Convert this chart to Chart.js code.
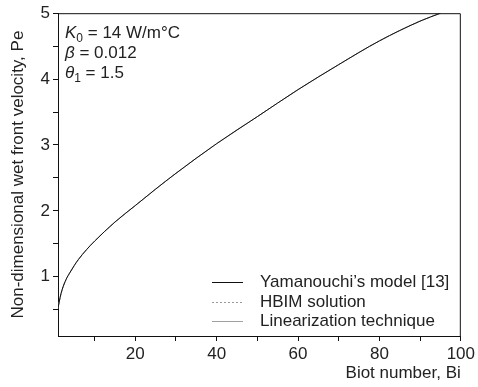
<!DOCTYPE html>
<html>
<head>
<meta charset="utf-8">
<script src="https://cdn.jsdelivr.net/npm/chart.js@4/dist/chart.umd.min.js"></script>
<style>
html,body{margin:0;padding:0;background:#fff;}
#wrap{width:478px;height:387px;position:relative;}
</style>
</head>
<body>
<div id="wrap"><canvas id="c" width="478" height="387"></canvas></div>
<script>
const biot = [1, 1.5, 2, 3, 4, 5, 6, 8, 10, 15, 20, 25, 30, 40, 50, 60, 70, 80, 90, 95];
const yamanouchi = [0.52, 0.68, 0.80, 0.96, 1.07, 1.17, 1.26, 1.41, 1.54, 1.83, 2.08, 2.33, 2.57, 3.02, 3.43, 3.84, 4.22, 4.58, 4.88, 5.00];
const hbim = [0.52, 0.68, 0.80, 0.96, 1.07, 1.17, 1.26, 1.41, 1.54, 1.83, 2.08, 2.33, 2.57, 3.02, 3.43, 3.84, 4.22, 4.58, 4.88, 5.00];
const linearization = [0.52, 0.68, 0.80, 0.96, 1.07, 1.17, 1.26, 1.41, 1.54, 1.83, 2.08, 2.33, 2.57, 3.02, 3.43, 3.84, 4.22, 4.58, 4.88, 5.00];
const seriesNames = ["Yamanouchi\u2019s model [13]", "HBIM solution", "Linearization technique"];
const xTicks = [10, 20, 30, 40, 50, 60, 70, 80, 90, 100];
const xTickLabels = [20, 40, 60, 80, 100];
const yTicks = [0.5, 1, 1.5, 2, 2.5, 3, 3.5, 4, 4.5, 5];
const yTickLabels = [1, 2, 3, 4, 5];

const FONT = "'Liberation Sans', Arial, Helvetica, sans-serif";
const TXT = '#222';

function pts(arr){ return biot.map((b,i)=>({x:b, y:arr[i]})); }

const frameAndText = {
  id: 'frameAndText',
  afterDraw(chart){
    const ctx = chart.ctx, a = chart.chartArea;
    ctx.save();
    ctx.strokeStyle = '#111';
    ctx.lineWidth = 1;
    ctx.beginPath();
    ctx.moveTo(a.left, a.top + 0.5);
    ctx.lineTo(a.right - 0.5, a.top + 0.5);
    ctx.lineTo(a.right - 0.5, a.bottom);
    ctx.stroke();

    // annotations
    ctx.fillStyle = TXT;
    ctx.textBaseline = 'alphabetic';
    const x0 = a.left + 7;
    let y = a.top + 25;
    ctx.font = 'italic 17px ' + FONT;
    ctx.fillText('K', x0, y);
    let w = ctx.measureText('K').width;
    ctx.font = '12px ' + FONT;
    ctx.fillText('0', x0 + w, y + 4);
    let w2 = ctx.measureText('0').width;
    ctx.font = '17px ' + FONT;
    ctx.fillText(' = 14 W/m\u00B0C', x0 + w + w2, y);

    y += 20;
    ctx.font = 'italic 17px ' + FONT;
    ctx.fillText('\u03B2', x0, y);
    w = ctx.measureText('\u03B2').width;
    ctx.font = '17px ' + FONT;
    ctx.fillText(' = 0.012', x0 + w, y);

    y += 20;
    ctx.font = 'italic 17px ' + FONT;
    ctx.fillText('\u03B8', x0, y);
    w = ctx.measureText('\u03B8').width;
    ctx.font = '12px ' + FONT;
    ctx.fillText('1', x0 + w, y + 4);
    w2 = ctx.measureText('1').width;
    ctx.font = '17px ' + FONT;
    ctx.fillText(' = 1.5', x0 + w + w2, y);

    // legend
    const lx0 = 212, lx1 = 243, tx = 260;
    const rows = [282, 302, 321];
    chart.data.datasets.forEach((ds, i) => {
      const ry = rows[i];
      ctx.strokeStyle = ds.borderColor;
      ctx.lineWidth = ds.borderWidth;
      ctx.setLineDash(ds.borderDash || []);
      ctx.beginPath();
      ctx.moveTo(lx0, ry + 0.5);
      ctx.lineTo(lx1, ry + 0.5);
      ctx.stroke();
      ctx.setLineDash([]);
      ctx.fillStyle = TXT;
      ctx.font = '17px ' + FONT;
      ctx.textBaseline = 'middle';
      ctx.fillText(ds.label, tx, ry);
    });
    ctx.restore();
  }
};

new Chart(document.getElementById('c'), {
  type: 'line',
  data: {
    datasets: [
      {label: seriesNames[0], data: pts(yamanouchi), borderColor: '#111', borderWidth: 1, pointRadius: 0, cubicInterpolationMode: 'monotone', fill: false},
      {label: seriesNames[1], data: pts(hbim), borderColor: '#999', borderWidth: 1, borderDash: [2, 2], pointRadius: 0, cubicInterpolationMode: 'monotone', fill: false},
      {label: seriesNames[2], data: pts(linearization), borderColor: '#777', borderWidth: 0.7, pointRadius: 0, cubicInterpolationMode: 'monotone', fill: false}
    ]
  },
  options: {
    responsive: false,
    animation: false,
    devicePixelRatio: 1,
    layout: {padding: {left: 0, right: 17, top: 9, bottom: 0}},
    plugins: {legend: {display: false}, tooltip: {enabled: false}},
    scales: {
      x: {
        type: 'linear', min: 1, max: 100,
        afterBuildTicks(s){ s.ticks = xTicks.map(v => ({value: v})); },
        afterFit(s){ s.height = 51; },
        ticks: {
          autoSkip: false, maxRotation: 0, padding: 3, color: TXT,
          font: {family: FONT, size: 17},
          callback(v){ return xTickLabels.includes(v) ? String(v) : ''; }
        },
        grid: {drawOnChartArea: false, tickLength: 5, color: '#111', tickWidth: 1},
        border: {color: '#111', width: 1},
        title: {display: true, text: 'Biot number, Bi', align: 'end', color: TXT, font: {family: FONT, size: 17}, padding: {top: 0, bottom: 3}}
      },
      y: {
        type: 'linear', min: 0.1, max: 5,
        afterBuildTicks(s){ s.ticks = yTicks.map(v => ({value: v})); },
        afterFit(s){ s.width = 58; },
        ticks: {
          autoSkip: false, padding: 3, color: TXT,
          font: {family: FONT, size: 17},
          callback(v){ return yTickLabels.includes(v) ? String(v) : ''; }
        },
        grid: {drawOnChartArea: false, tickLength: 5, color: '#111', tickWidth: 1},
        border: {color: '#111', width: 1},
        title: {display: true, text: 'Non-dimensional wet front velocity, Pe', color: TXT, font: {family: FONT, size: 17}, padding: {top: 8, bottom: 0}}
      }
    }
  },
  plugins: [frameAndText]
});
</script>
</body>
</html>
